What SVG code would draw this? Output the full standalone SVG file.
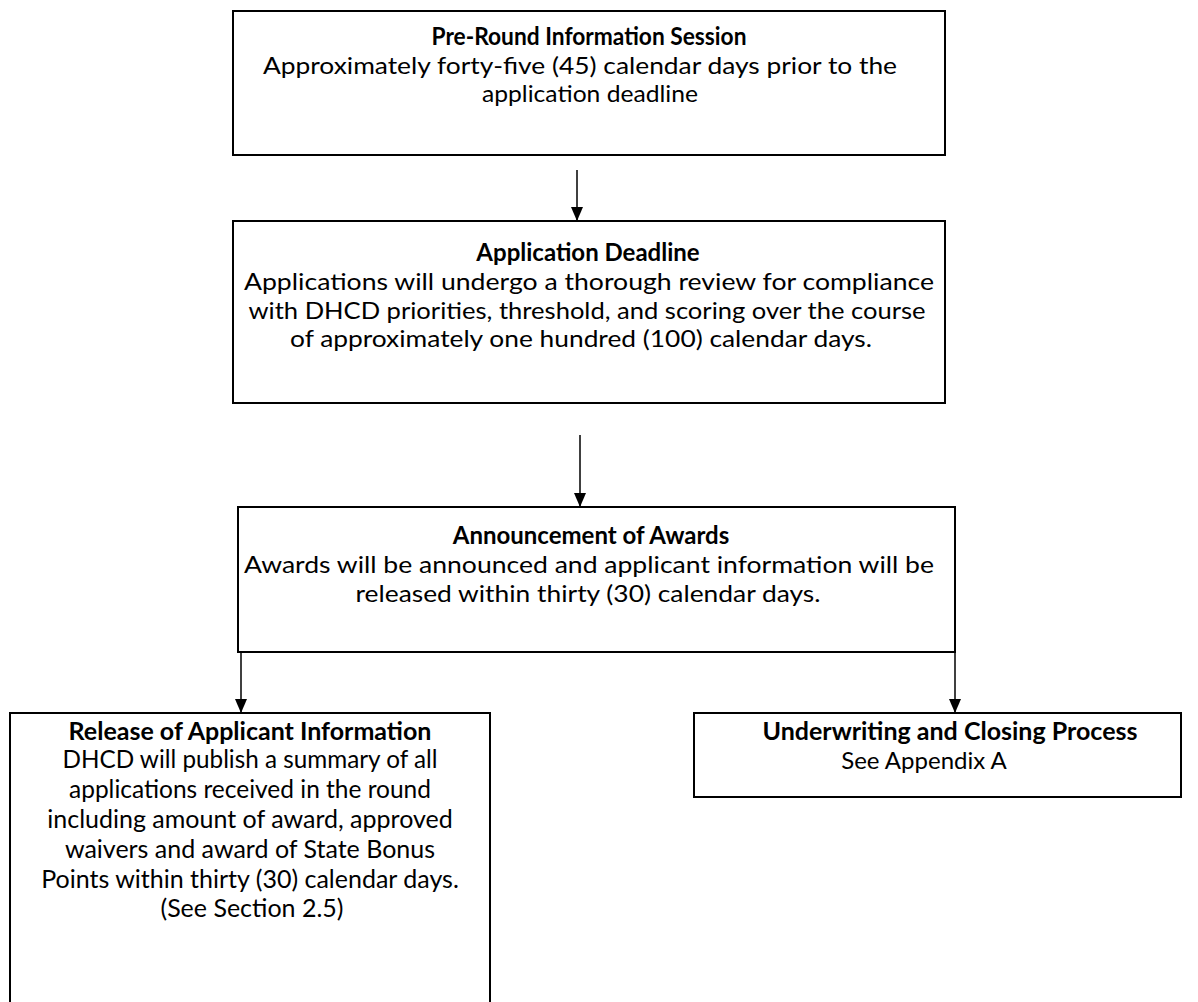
<svg xmlns="http://www.w3.org/2000/svg" width="1198" height="1002" viewBox="0 0 1198 1002">
<defs>
<marker id="arr" markerWidth="14" markerHeight="12" refX="14" refY="6" orient="auto" markerUnits="userSpaceOnUse" viewBox="0 0 14 12">
<path d="M0,0 L14,6 L0,12 Z" fill="#000"/>
</marker>
<style>
.box{fill:#fff;stroke:#000;stroke-width:2}
.t{font-family:Lato,"Liberation Sans",sans-serif;fill:#000;text-anchor:middle}
.r{font-size:24px}
.b{font-weight:bold;font-size:24px}
.r2{font-size:25px}
.b2{font-weight:bold;font-size:25px}
.c{stroke:#000;stroke-width:1.5;fill:none}
</style>
</defs>
<rect width="1198" height="1002" fill="#fff"/>
<g id="connectors">
<line class="c" x1="577" y1="170" x2="577" y2="221" marker-end="url(#arr)"/>
<line class="c" x1="580" y1="435" x2="580" y2="507" marker-end="url(#arr)"/>
<line class="c" x1="241" y1="652" x2="241" y2="713" marker-end="url(#arr)"/>
<line class="c" x1="955" y1="652" x2="955" y2="713" marker-end="url(#arr)"/>
</g>
<g id="node-preround">
<rect class="box" x="233" y="11" width="712" height="144"/>
<text class="t b" x="589" y="45" textLength="315" lengthAdjust="spacingAndGlyphs">Pre-Round Information Session</text>
<text class="t r" x="580" y="74" textLength="634" lengthAdjust="spacingAndGlyphs">Approximately forty-five (45) calendar days prior to the</text>
<text class="t r" x="590" y="102" textLength="216" lengthAdjust="spacingAndGlyphs">application deadline</text>
</g>
<g id="node-deadline">
<rect class="box" x="233" y="221" width="712" height="182"/>
<text class="t b" x="588" y="261">Application Deadline</text>
<text class="t r" x="589" y="290" textLength="690" lengthAdjust="spacingAndGlyphs">Applications will undergo a thorough review for compliance</text>
<text class="t r" x="587" y="319" textLength="677" lengthAdjust="spacingAndGlyphs">with DHCD priorities, threshold, and scoring over the course</text>
<text class="t r" x="581" y="347" textLength="582" lengthAdjust="spacingAndGlyphs">of approximately one hundred (100) calendar days.</text>
</g>
<g id="node-awards">
<rect class="box" x="238" y="507" width="717" height="145"/>
<text class="t b" x="591" y="544">Announcement of Awards</text>
<text class="t r" x="589" y="573" textLength="690" lengthAdjust="spacingAndGlyphs">Awards will be announced and applicant information will be</text>
<text class="t r" x="588" y="602" textLength="465" lengthAdjust="spacingAndGlyphs">released within thirty (30) calendar days.</text>
</g>
<g id="node-release">
<path class="box" d="M10,1004 L10,713 L490,713 L490,1004"/>
<text class="t b2" x="250" y="740">Release of Applicant Information</text>
<text class="t r2" x="250" y="768" textLength="375" lengthAdjust="spacingAndGlyphs">DHCD will publish a summary of all</text>
<text class="t r2" x="250" y="798" textLength="362" lengthAdjust="spacingAndGlyphs">applications received in the round</text>
<text class="t r2" x="250" y="828">including amount of award, approved</text>
<text class="t r2" x="250" y="858">waivers and award of State Bonus</text>
<text class="t r2" x="250" y="888">Points within thirty (30) calendar days.</text>
<text class="t r2" x="252" y="917">(See Section 2.5)</text>
</g>
<g id="node-underwriting">
<rect class="box" x="694" y="713" width="487" height="84"/>
<text class="t b2" x="950" y="740">Underwriting and Closing Process</text>
<text class="t r" x="924" y="769">See Appendix A</text>
</g>
</svg>
